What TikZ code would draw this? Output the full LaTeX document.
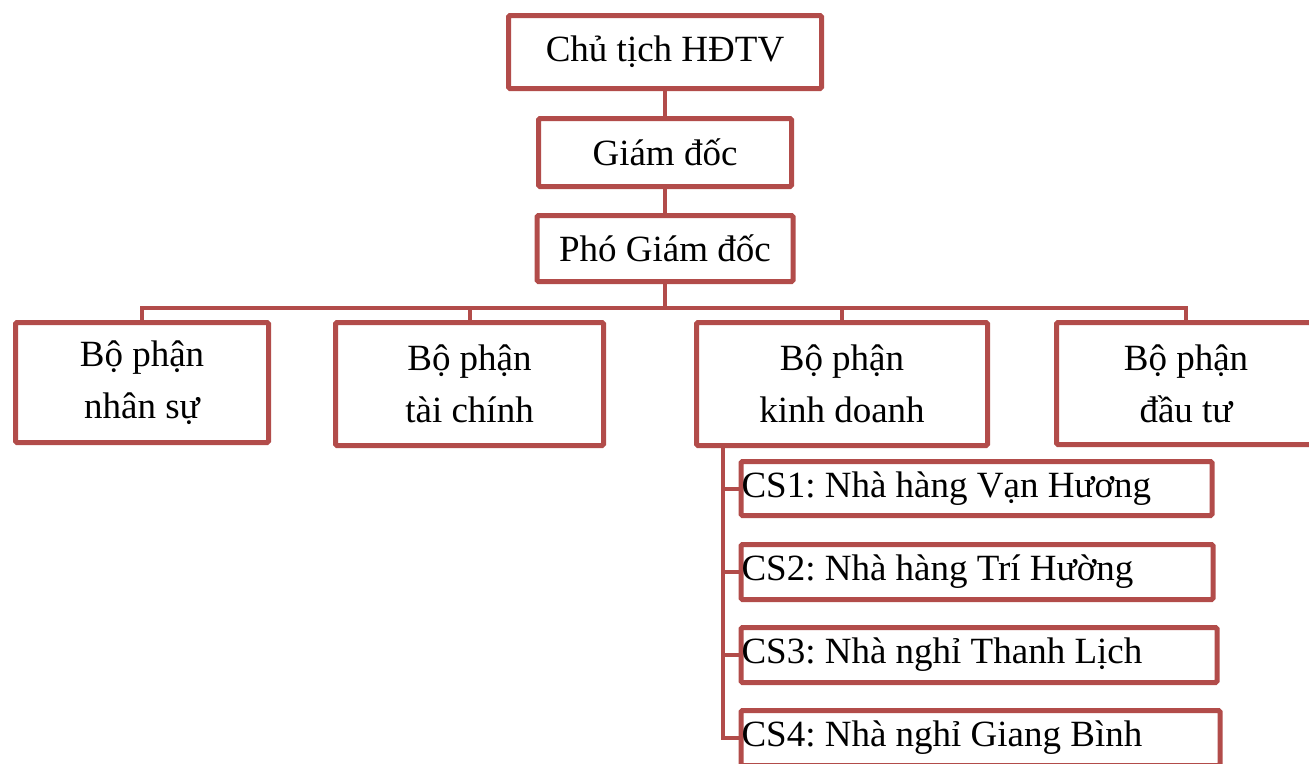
\documentclass[tikz,border=0pt]{standalone}
\usepackage{fontspec}
\setmainfont{Liberation Serif}
\frenchspacing
\definecolor{boxred}{RGB}{178,76,74}
\newcommand{\cstext}[2]{\makebox[#1][l]{#2}}
\tikzset{
  orgbox/.style={draw=boxred, line width=5pt, rounded corners=1.5pt, fill=white, inner sep=2pt,
    font=\fontsize{37}{52}\selectfont, align=center, text=black},
  csbox/.style={draw=boxred, line width=5pt, rounded corners=1.5pt, fill=white, inner xsep=0.5pt, inner ysep=0pt,
    font=\fontsize{37}{52}\selectfont, anchor=west, text=black},
  conn/.style={draw=boxred, line width=4pt}
}
\begin{document}
\begin{tikzpicture}[x=1pt,y=-1pt]
\useasboundingbox (0,0) rectangle (1309,763);
\coordinate (bus) at (665,307.5);
\node[orgbox, minimum width=313pt, minimum height=73pt] (cth) at (665,52) {Chủ tịch HĐTV};
\node[orgbox, minimum width=253pt, minimum height=68pt] (gd) at (665,152.5) {Giám đốc};
\node[orgbox, minimum width=256pt, minimum height=66pt] (pgd) at (665,248.5) {Phó Giám đốc};
\node[orgbox, minimum width=253pt, minimum height=120pt] (ns) at (142,382.5) {Bộ phận\\nhân sự};
\node[orgbox, minimum width=268pt, minimum height=123pt] (tc) at (469.5,384) {Bộ phận\\tài chính};
\node[orgbox, minimum width=291pt, minimum height=123pt] (kd) at (842,384) {Bộ phận\\kinh doanh};
\node[orgbox, minimum width=259pt, minimum height=122pt] (dt) at (1186,383.5) {Bộ phận\\đầu tư};
\node[csbox, minimum height=54pt] (cs1) at (738.5,488.5) {\cstext{470pt}{CS1: Nhà hàng Vạn Hương}};
\node[csbox, minimum height=55pt] (cs2) at (738.5,572) {\cstext{471pt}{CS2: Nhà hàng Trí Hường}};
\node[csbox, minimum height=55pt] (cs3) at (738.5,655) {\cstext{475pt}{CS3: Nhà nghỉ Thanh Lịch}};
\node[csbox, minimum height=55pt] (cs4) at (738.5,738) {\cstext{478pt}{CS4: Nhà nghỉ Giang Bình}};
% connectors
\draw[conn] (cth.south) -- (gd.north);
\draw[conn] (gd.south) -- (pgd.north);
\draw[conn] (pgd.south) -- (bus);
\draw[conn, line cap=rect] (ns.north |- bus) -- (dt.north |- bus);
\draw[conn] (ns.north |- bus) -- (ns.north);
\draw[conn] (tc.north |- bus) -- (tc.north);
\draw[conn] (kd.north |- bus) -- (kd.north);
\draw[conn] (dt.north |- bus) -- (dt.north);
\coordinate (sp) at ([xshift=29pt]kd.south west);
\draw[conn] (sp) |- (cs4.west);
\draw[conn] (sp |- cs1.west) -- (cs1.west);
\draw[conn] (sp |- cs2.west) -- (cs2.west);
\draw[conn] (sp |- cs3.west) -- (cs3.west);
\end{tikzpicture}
\end{document}
